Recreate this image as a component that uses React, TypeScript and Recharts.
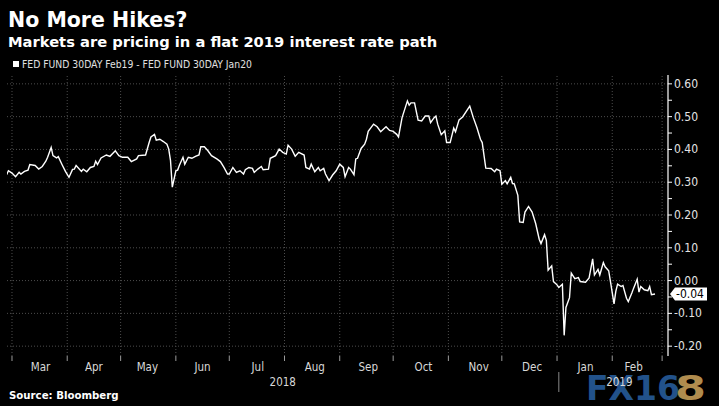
import React from 'react';
import { LineChart, Line, XAxis, YAxis, ReferenceLine } from 'recharts';

// days since 2018-03-01
const days = [
  -3, -2, 0, 2, 4, 5, 7, 9, 10, 13, 15, 17, 19, 20, 22, 23, 25, 26, 28, 30,
  32, 34, 35, 36, 39, 40, 42, 44, 46, 47, 48, 50, 53, 55, 58, 60, 62, 65, 67, 70,
  71, 75, 77, 78, 80, 81, 83, 85, 87, 88, 89, 90, 92, 93, 94, 96, 97, 99, 101, 103,
  105, 106, 108, 110, 112, 115, 117, 119, 121, 122, 124, 126, 128, 130, 131, 133, 135, 136, 138, 140,
  141, 144, 145, 148, 150, 152, 154, 155, 157, 159, 161, 164, 165, 167, 168, 170, 172, 173, 175, 176,
  178, 180, 182, 184, 186, 187, 189, 190, 192, 193, 194, 196, 198, 199, 200, 203, 205, 207, 210, 212,
  214, 216, 217, 219, 222, 223, 224, 226, 228, 230, 232, 234, 235, 237, 238, 239, 241, 243, 244, 246,
  248, 249, 251, 253, 257, 259, 261, 263, 264, 266, 269, 271, 272, 274, 275, 277, 278, 280, 281, 282,
  284, 285, 287, 288, 290, 292, 294, 296, 297, 299, 300, 301, 303, 304, 306, 307, 309, 310, 311, 313,
  314, 316, 318, 319, 322, 324, 326, 327, 329, 330, 332, 333, 335, 336, 338, 339, 340, 342, 343, 345,
  346, 348, 349, 351, 352, 353, 355, 357, 358, 359, 361,
];

// FED FUND 30DAY Feb19 - FED FUND 30DAY Jan20
const spread = [
  0.323, 0.335, 0.328, 0.317, 0.330, 0.325, 0.333, 0.337, 0.354, 0.351, 0.340, 0.348, 0.364, 0.376, 0.406, 0.381, 0.374, 0.378, 0.355, 0.333,
  0.315, 0.339, 0.340, 0.351, 0.333, 0.340, 0.332, 0.345, 0.348, 0.364, 0.354, 0.374, 0.383, 0.379, 0.396, 0.381, 0.376, 0.376, 0.363, 0.371,
  0.381, 0.383, 0.421, 0.438, 0.446, 0.428, 0.431, 0.424, 0.416, 0.401, 0.366, 0.285, 0.335, 0.337, 0.352, 0.376, 0.355, 0.376, 0.373, 0.379,
  0.383, 0.408, 0.408, 0.396, 0.381, 0.371, 0.363, 0.345, 0.325, 0.325, 0.345, 0.330, 0.335, 0.325, 0.338, 0.345, 0.342, 0.330, 0.340, 0.348,
  0.338, 0.340, 0.373, 0.381, 0.401, 0.391, 0.386, 0.413, 0.401, 0.379, 0.391, 0.383, 0.345, 0.340, 0.355, 0.332, 0.345, 0.335, 0.342, 0.325,
  0.305, 0.322, 0.335, 0.355, 0.345, 0.317, 0.345, 0.340, 0.323, 0.371, 0.373, 0.403, 0.416, 0.431, 0.455, 0.477, 0.469, 0.454, 0.469, 0.458,
  0.455, 0.446, 0.438, 0.497, 0.548, 0.535, 0.542, 0.542, 0.489, 0.487, 0.502, 0.502, 0.482, 0.497, 0.502, 0.477, 0.445, 0.457, 0.421, 0.421,
  0.465, 0.454, 0.490, 0.499, 0.532, 0.497, 0.467, 0.431, 0.421, 0.343, 0.342, 0.332, 0.340, 0.335, 0.294, 0.305, 0.295, 0.315, 0.296, 0.295,
  0.260, 0.179, 0.177, 0.209, 0.226, 0.209, 0.174, 0.126, 0.113, 0.140, 0.123, 0.032, 0.045, -0.003, -0.013, -0.021, -0.011, -0.167, -0.082, -0.052,
  0.023, 0.006, 0.009, -0.003, -0.005, 0.008, 0.066, 0.017, 0.034, 0.017, 0.055, 0.042, 0.030, -0.003, -0.071, -0.033, -0.011, -0.018, -0.015, -0.054,
  -0.064, -0.038, -0.023, 0.004, -0.035, -0.018, -0.028, -0.031, -0.018, -0.043, -0.041,
];

const monthStarts = [0, 31, 61, 92, 122, 153, 184, 214, 245, 275, 306, 337, 365];
const monthCenters = [16, 46, 76, 107, 138, 170, 200, 231, 262, 292, 322, 349];
const monthNames = ['Mar', 'Apr', 'May', 'Jun', 'Jul', 'Aug', 'Sep', 'Oct', 'Nov', 'Dec', 'Jan', 'Feb'];
const yearCenters = [152, 341];
const yearNames = ['2018', '2019'];
const yearBreak = 307;
const yTicks = [-0.2, -0.15, -0.1, -0.05, 0, 0.05, 0.1, 0.15, 0.2, 0.25, 0.3, 0.35, 0.4, 0.45, 0.5, 0.55, 0.6];
const yGrid = [-0.2, -0.1, 0, 0.1, 0.2, 0.3, 0.4, 0.5, 0.6];

const data = days.map((d, i) => ({ day: d, value: spread[i] }));
const last = data[data.length - 1];

const AXIS_FONT = "'Liberation Sans Narrow', 'DejaVu Sans Condensed', 'Roboto Condensed', Roboto, sans-serif";
const HEAD_FONT = "'DejaVu Sans', Verdana, sans-serif";
const X_DOMAIN: [number, number] = [-2.8, 368.3];
const GRID = '#4d4d4d';

function YTick({ x, y, payload }: any) {
  const v = payload.value;
  if (Math.round(v * 100) % 10 !== 0) return <g />;
  return (
    <text x={x} y={y} dy={4} fill="#e4e4e4" fontSize={12} fontFamily={AXIS_FONT} fontStretch="condensed">
      {v.toFixed(2)}
    </text>
  );
}

function MonthTick({ x, y, payload }: any) {
  const i = monthCenters.indexOf(payload.value);
  return (
    <text x={x} y={y + 9} textAnchor="middle" fill="#d8d8d8" fontSize={11.5} fontFamily={AXIS_FONT} fontStretch="condensed">
      {monthNames[i]}
    </text>
  );
}

function YearTick({ x, y, payload }: any) {
  if (payload.value === yearBreak) {
    return <line x1={x} x2={x} y1={y - 4} y2={y + 16} stroke="#888" strokeWidth={1} />;
  }
  const i = yearCenters.indexOf(payload.value);
  return (
    <text x={x} y={y + 10} textAnchor="middle" fill="#d8d8d8" fontSize={11.5} fontFamily={AXIS_FONT} fontStretch="condensed">
      {yearNames[i]}
    </text>
  );
}

function LastTag({ viewBox }: any) {
  const x0 = viewBox.x + viewBox.width + 2;
  const y0 = viewBox.y;
  return (
    <g>
      <polygon
        points={`${x0},${y0} ${x0 + 5},${y0 - 6.5} ${x0 + 37},${y0 - 6.5} ${x0 + 37},${y0 + 6.5} ${x0 + 5},${y0 + 6.5}`}
        fill="#fff"
      />
      <text x={x0 + 6} y={y0 + 4} fill="#000" fontSize={12} fontFamily={AXIS_FONT} fontStretch="condensed">
        {last.value.toFixed(2)}
      </text>
    </g>
  );
}

export default function App() {
  return (
    <div style={{ position: 'absolute', left: 0, top: 0, width: 719, height: 406, background: '#000', overflow: 'hidden' }}>
      {/* watermark */}
      <svg width={719} height={406} style={{ position: 'absolute', left: 0, top: 0 }}>
        <text x={586} y={400} fontSize={33} fontWeight="bold" fontFamily={HEAD_FONT} fill="#22528a">FX16</text>
        <text x={675} y={400} fontSize={34} fontWeight="bold" fontFamily={HEAD_FONT} fill="#b08c4e" textLength={31} lengthAdjust="spacingAndGlyphs">8</text>
      </svg>

      <div style={{ position: 'absolute', left: 0, top: 0 }}>
        <LineChart width={719} height={406} data={data} margin={{ top: 75, right: 0, left: 7, bottom: 14 }}>
          <XAxis
            xAxisId="b"
            type="number"
            dataKey="day"
            domain={X_DOMAIN}
            allowDataOverflow
            ticks={monthStarts}
            interval={0}
            height={6}
            tickSize={5}
            axisLine={false}
            tickLine={{ stroke: '#9a9a9a' }}
            tick={() => <g />}
          />
          <XAxis
            xAxisId="m"
            type="number"
            dataKey="day"
            domain={X_DOMAIN}
            allowDataOverflow
            ticks={monthCenters}
            interval={0}
            height={14}
            tickSize={0}
            tickMargin={0}
            axisLine={false}
            tickLine={false}
            tick={<MonthTick />}
          />
          <XAxis
            xAxisId="y"
            type="number"
            dataKey="day"
            domain={X_DOMAIN}
            allowDataOverflow
            ticks={[yearCenters[0], yearBreak, yearCenters[1]]}
            interval={0}
            height={16}
            tickSize={0}
            tickMargin={0}
            axisLine={false}
            tickLine={false}
            tick={<YearTick />}
          />
          <YAxis
            orientation="right"
            width={51}
            domain={[-0.23, 0.627]}
            allowDataOverflow
            ticks={yTicks}
            interval={0}
            tickSize={4}
            tickMargin={2}
            axisLine={{ stroke: '#fff', strokeWidth: 1.2 }}
            tickLine={{ stroke: '#fff' }}
            tick={<YTick />}
          />
          {yGrid.map((v) => (
            <ReferenceLine key={'h' + v} xAxisId="b" y={v} stroke={GRID} strokeDasharray="1 2" />
          ))}
          {monthStarts.map((d) => (
            <ReferenceLine key={'v' + d} xAxisId="b" x={d} stroke={GRID} strokeDasharray="1 2" />
          ))}
          <Line
            xAxisId="b"
            type="linear"
            dataKey="value"
            stroke="#fff"
            strokeWidth={1.4}
            dot={false}
            isAnimationActive={false}
          />
          <ReferenceLine xAxisId="b" y={last.value} stroke="none" label={{ content: (p: any) => <LastTag {...p} /> }} />
        </LineChart>
      </div>

      <svg width={719} height={406} style={{ position: 'absolute', left: 0, top: 0, pointerEvents: 'none' }}>
        <text x={8} y={27} fontSize={20.5} fontWeight="bold" fontFamily={HEAD_FONT} fill="#fff">No More Hikes?</text>
        <text x={8} y={46.5} fontSize={14.7} fontWeight="bold" fontFamily={HEAD_FONT} fill="#fff">
          Markets are pricing in a flat 2019 interest rate path
        </text>
        <rect x={13} y={61} width={6} height={6} fill="#fff" />
        <text x={22} y={68} fontSize={10.3} fontFamily={AXIS_FONT} fontStretch="condensed" fill="#e0e0e0">
          FED FUND 30DAY Feb19 - FED FUND 30DAY Jan20
        </text>
        <text x={9} y={399} fontSize={10.2} fontWeight="bold" fontFamily={HEAD_FONT} fill="#fff">Source: Bloomberg</text>
      </svg>
    </div>
  );
}
